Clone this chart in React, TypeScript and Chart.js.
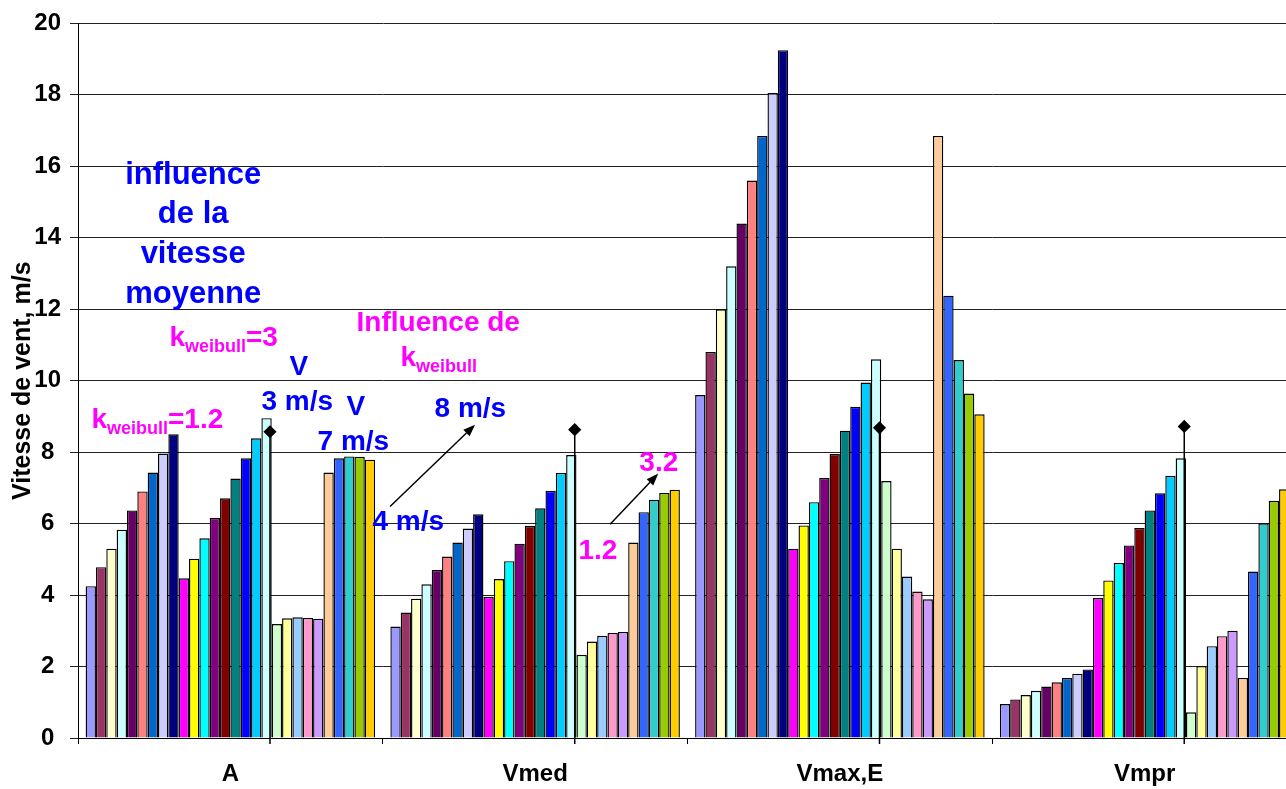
import React, { useEffect, useRef } from "react";
import { Chart, registerables } from "chart.js";

Chart.register(...registerables);

// ---------- data ----------
const categories = ["A", "Vmed", "Vmax,E", "Vmpr"];

// 28 series per category, in series order
const valuesA = [4.25, 4.78, 5.3, 5.83, 6.37, 6.9, 7.43, 7.96, 8.5, 4.47, 5.02, 5.59, 6.16, 6.71, 7.26, 7.83, 8.39, 8.95, 3.19, 3.35, 3.38, 3.36, 3.34, 7.43, 7.83, 7.88, 7.87, 7.79];
const valuesVmed = [3.12, 3.51, 3.9, 4.3, 4.7, 5.08, 5.47, 5.86, 6.26, 3.95, 4.45, 4.95, 5.44, 5.94, 6.43, 6.92, 7.42, 7.92, 2.33, 2.7, 2.86, 2.94, 2.97, 5.47, 6.32, 6.67, 6.86, 6.95];
const valuesVmaxE = [9.6, 10.8, 12.0, 13.2, 14.4, 15.6, 16.85, 18.05, 19.25, 5.3, 5.95, 6.6, 7.28, 7.95, 8.6, 9.27, 9.95, 10.6, 7.19, 5.3, 4.52, 4.1, 3.88, 16.85, 12.38, 10.58, 9.64, 9.06];
const valuesVmpr = [0.95, 1.08, 1.2, 1.32, 1.44, 1.56, 1.68, 1.8, 1.92, 3.92, 4.41, 4.9, 5.39, 5.88, 6.37, 6.85, 7.34, 7.83, 0.72, 2.01, 2.57, 2.85, 3.0, 1.68, 4.66, 6.01, 6.64, 6.96];

const seriesColors = [
  "#9999FF", "#993366", "#FFFFCC", "#CCFFFF", "#660066", "#FF8080", "#0066CC",
  "#CCCCFF", "#000080", "#FF00FF", "#FFFF00", "#00FFFF", "#800080", "#800000",
  "#008080", "#0000FF", "#00CCFF", "#CCFFFF", "#CCFFCC", "#FFFF99", "#99CCFF",
  "#FF99CC", "#CC99FF", "#FFCC99", "#3366FF", "#33CCCC", "#99CC00", "#FFCC00",
];

// reference markers (diamond + drop line), one per category
const markerValues = [8.57, 8.63, 8.68, 8.72];

const yMin = 0;
const yMax = 20;
const yStep = 2;

// ---------- styles ----------
const FONT = '"Liberation Sans", Arial, Helvetica, sans-serif';
const BLUE = "#0000FF";
const MAGENTA = "#FF00FF";
const MARKER_OFFSET = 0.13; // within category, in category units
const MARKER_BASE = -0.17; // line runs slightly below the axis

type Seg = { t: string; sub?: boolean };
type Annot = { x: number; y: number; color: string; size: number; align: CanvasTextAlign; segs: Seg[] };

const annotations: Annot[] = [
  { x: -0.122, y: 15.5, color: BLUE, size: 31, align: "center", segs: [{ t: "influence" }] },
  { x: -0.122, y: 14.41, color: BLUE, size: 31, align: "center", segs: [{ t: "de la" }] },
  { x: -0.122, y: 13.3, color: BLUE, size: 31, align: "center", segs: [{ t: "vitesse" }] },
  { x: -0.122, y: 12.18, color: BLUE, size: 31, align: "center", segs: [{ t: "moyenne" }] },
  { x: -0.2, y: 10.98, color: MAGENTA, size: 28, align: "left", segs: [{ t: "k" }, { t: "weibull", sub: true }, { t: "=3" }] },
  { x: -0.456, y: 8.69, color: MAGENTA, size: 28, align: "left", segs: [{ t: "k" }, { t: "weibull", sub: true }, { t: "=1.2" }] },
  { x: 0.194, y: 10.17, color: BLUE, size: 28, align: "left", segs: [{ t: "V" }] },
  { x: 0.102, y: 9.19, color: BLUE, size: 28, align: "left", segs: [{ t: "3 m/s" }] },
  { x: 0.381, y: 9.05, color: BLUE, size: 28, align: "left", segs: [{ t: "V" }] },
  { x: 0.286, y: 8.07, color: BLUE, size: 28, align: "left", segs: [{ t: "7 m/s" }] },
  { x: 0.414, y: 11.4, color: MAGENTA, size: 28, align: "left", segs: [{ t: "Influence de" }] },
  { x: 0.558, y: 10.42, color: MAGENTA, size: 28, align: "left", segs: [{ t: "k" }, { t: "weibull", sub: true }] },
  { x: 0.67, y: 8.99, color: BLUE, size: 28, align: "left", segs: [{ t: "8 m/s" }] },
  { x: 0.466, y: 5.81, color: BLUE, size: 28, align: "left", segs: [{ t: "4 m/s" }] },
  { x: 1.342, y: 7.46, color: MAGENTA, size: 28, align: "left", segs: [{ t: "3.2" }] },
  { x: 1.142, y: 5.0, color: MAGENTA, size: 28, align: "left", segs: [{ t: "1.2" }] },
];

const arrows = [
  { x1: 0.524, y1: 6.48, x2: 0.803, y2: 8.77 },
  { x1: 1.246, y1: 5.98, x2: 1.404, y2: 7.4 },
];

const annotationPlugin = {
  id: "annotations",
  afterDatasetsDraw(chart: any) {
    const xs = chart.scales.x2;
    const ys = chart.scales.y;
    const ctx: CanvasRenderingContext2D = chart.ctx;
    ctx.save();
    ctx.strokeStyle = "#000";
    ctx.fillStyle = "#000";
    ctx.lineWidth = 1.5;
    for (const a of arrows) {
      const x1 = xs.getPixelForValue(a.x1);
      const y1 = ys.getPixelForValue(a.y1);
      const x2 = xs.getPixelForValue(a.x2);
      const y2 = ys.getPixelForValue(a.y2);
      const ang = Math.atan2(y2 - y1, x2 - x1);
      const len = 12;
      const hw = 4.5;
      const bx = x2 - len * Math.cos(ang);
      const by = y2 - len * Math.sin(ang);
      ctx.beginPath();
      ctx.moveTo(x1, y1);
      ctx.lineTo(bx, by);
      ctx.stroke();
      ctx.beginPath();
      ctx.moveTo(x2, y2);
      ctx.lineTo(bx + hw * Math.sin(ang), by - hw * Math.cos(ang));
      ctx.lineTo(bx - hw * Math.sin(ang), by + hw * Math.cos(ang));
      ctx.closePath();
      ctx.fill();
    }
    ctx.textBaseline = "alphabetic";
    for (const a of annotations) {
      const px = xs.getPixelForValue(a.x);
      const py = ys.getPixelForValue(a.y);
      ctx.fillStyle = a.color;
      if (a.segs.length === 1 && !a.segs[0].sub) {
        ctx.font = `bold ${a.size}px ${FONT}`;
        ctx.textAlign = a.align;
        ctx.fillText(a.segs[0].t, px, py);
        continue;
      }
      ctx.textAlign = "left";
      let cx = px;
      for (const s of a.segs) {
        const size = s.sub ? Math.round(a.size * 0.65) : a.size;
        ctx.font = `bold ${size}px ${FONT}`;
        ctx.fillText(s.t, cx, s.sub ? py + 6 : py);
        cx += ctx.measureText(s.t).width;
      }
    }
    ctx.restore();
  },
};

export default function App() {
  const canvasRef = useRef<HTMLCanvasElement | null>(null);

  useEffect(() => {
    if (!canvasRef.current) return;
    const perCategory = [valuesA, valuesVmed, valuesVmaxE, valuesVmpr];
    const barDatasets = seriesColors.map((color, i) => ({
      type: "bar" as const,
      indexAxis: "x" as const,
      label: `S${i + 1}`,
      data: perCategory.map((arr) => arr[i]),
      backgroundColor: color,
      borderColor: "#000",
      borderWidth: 1.4,
      categoryPercentage: 0.95,
      barPercentage: 1,
      xAxisID: "x",
      yAxisID: "y",
      order: 0,
    }));
    const markerData: any[] = [];
    markerValues.forEach((v, i) => {
      markerData.push({ x: i + MARKER_OFFSET, y: MARKER_BASE });
      markerData.push({ x: i + MARKER_OFFSET, y: v });
      markerData.push({ x: i + MARKER_OFFSET, y: null });
    });
    const markerDataset: any = {
      type: "line",
      indexAxis: "x",
      label: "marker",
      data: markerData,
      xAxisID: "x2",
      yAxisID: "y",
      borderColor: "#000",
      borderWidth: 1.5,
      pointStyle: "rectRot",
      pointRadius: (c: any) => (c.raw && c.raw.y != null && c.raw.y > 0 ? 5.5 : 0),
      pointBackgroundColor: "#000",
      pointBorderColor: "#000",
      spanGaps: false,
      clip: false,
      order: -1,
    };

    const tickFont = { family: FONT, size: 24, weight: "bold" as const };
    const chart = new Chart(canvasRef.current, {
      type: "bar",
      data: { labels: categories, datasets: [...barDatasets, markerDataset] as any },
      options: {
        // all datasets share one y axis; avoids bar-width split across x axes
        indexAxis: "y",
        responsive: false,
        animation: false,
        events: [],
        layout: { padding: { top: 22, right: 3, left: 0, bottom: 0 } },
        plugins: { legend: { display: false }, tooltip: { enabled: false }, title: { display: false } },
        scales: {
          x: {
            type: "category",
            position: "bottom",
            offset: true,
            grid: { offset: true, drawOnChartArea: false, drawTicks: true, tickLength: 6, color: "#000", lineWidth: 1 },
            border: { display: true, color: "#000", width: 1 },
            ticks: { font: tickFont, color: "#000", padding: 16, maxRotation: 0, autoSkip: false },
            afterFit: (s: any) => {
              s.height = 51;
            },
          },
          x2: { type: "linear", position: "bottom", display: false, min: -0.5, max: 3.5, offset: false },
          y: {
            type: "linear",
            position: "left",
            offset: false,
            min: yMin,
            max: yMax,
            beginAtZero: true,
            ticks: { stepSize: yStep, font: tickFont, color: "#000", padding: 9, crossAlign: "center" },
            grid: { offset: false, color: "#222", tickLength: 8, lineWidth: 1 },
            border: { display: true, color: "#000", width: 1 },
            title: {
              display: true,
              text: "Vitesse de vent, m/s",
              font: { family: FONT, size: 25, weight: "bold" },
              color: "#000",
              padding: { top: 8, bottom: 0 },
            },
            afterFit: (s: any) => {
              s.width = 78;
            },
          },
        } as any,
      },
      plugins: [annotationPlugin],
    });
    return () => chart.destroy();
  }, []);

  return (
    <div
      style={{
        position: "fixed",
        left: 0,
        top: 0,
        width: 1286,
        height: 789,
        overflow: "hidden",
        background: "#fff",
      }}
    >
      <canvas ref={canvasRef} width={1300} height={789} style={{ display: "block" }} />
    </div>
  );
}
